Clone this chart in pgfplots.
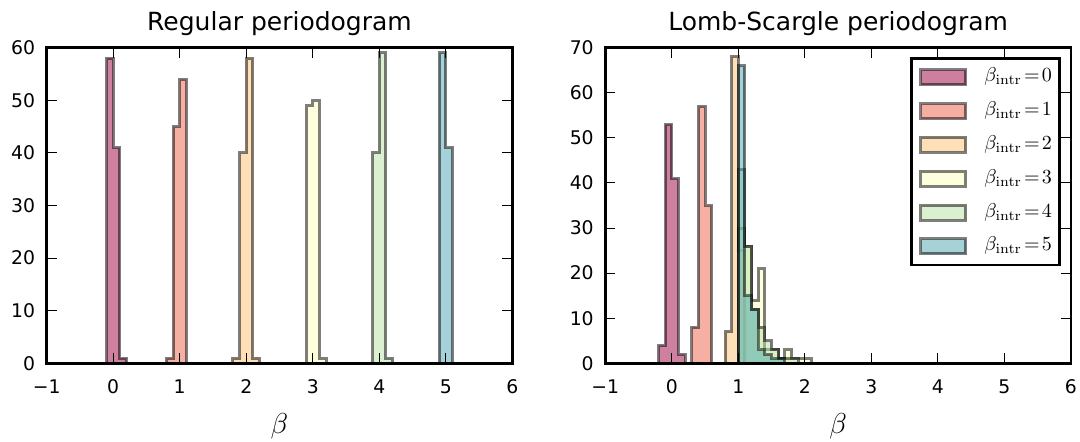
\documentclass[border=0pt]{standalone}
\usepackage{pgfplots}
\pgfplotsset{compat=1.18}
\usepackage{pgfplotstable}
\usepackage[no-math]{fontspec}
\setmainfont{DejaVu Sans}

% Spectral colours, sampled at 0, 0.17, ..., 0.85
\definecolor{c0}{RGB}{158,1,66}
\definecolor{c1}{RGB}{235,95,71}
\definecolor{c2}{RGB}{253,194,114}
\definecolor{c3}{RGB}{252,254,186}
\definecolor{c4}{RGB}{183,226,162}
\definecolor{c5}{RGB}{76,165,177}

% Histograms: left bin edge, count (last row closes the outline)
% Regular periodogram
\pgfplotstableread{
edge count
-0.1 58
0.0 41
0.1 1
0.2 0
}\regA
\pgfplotstableread{
edge count
0.8 1
0.9 45
1.0 54
1.1 0
}\regB
\pgfplotstableread{
edge count
1.8 1
1.9 40
2.0 58
2.1 1
2.2 0
}\regC
\pgfplotstableread{
edge count
2.9 49
3.0 50
3.1 1
3.2 0
}\regD
\pgfplotstableread{
edge count
3.9 40
4.0 59
4.1 1
4.2 0
}\regE
\pgfplotstableread{
edge count
4.9 59
5.0 41
5.1 0
}\regF
% Lomb-Scargle periodogram
\pgfplotstableread{
edge count
-0.2 4
-0.1 53
0.0 41
0.1 2
0.2 0
}\lsA
\pgfplotstableread{
edge count
0.3 8
0.4 57
0.5 35
0.6 0
}\lsB
\pgfplotstableread{
edge count
0.8 7
0.9 68
1.0 25
1.1 0
}\lsC
\pgfplotstableread{
edge count
1.0 30
1.1 26
1.2 14
1.3 21
1.4 3
1.5 3
1.6 1
1.7 3
1.8 1
1.9 1
2.0 1
2.1 0
}\lsD
\pgfplotstableread{
edge count
1.0 43
1.1 26
1.2 12
1.3 8
1.4 5
1.5 3
1.6 1
1.7 1
1.8 1
1.9 0
}\lsE
\pgfplotstableread{
edge count
1.0 66
1.1 15
1.2 12
1.3 3
1.4 2
1.5 1
1.6 1
1.7 0
}\lsF

\pgfplotsset{
  hist/.style={const plot, fill=#1, fill opacity=0.5, draw=black,
    draw opacity=0.5, line width=1.5pt, line join=miter},
  panel/.style={
    scale only axis, width=232.8pt, height=157.8pt,
    xmin=-1, xmax=6, ymin=0,
    xtick={-1,0,...,6},
    xticklabels={−1,0,1,2,3,4,5,6},
    axis on top,
    axis line style={line width=1.3pt},
    tick style={black, line width=0.5pt},
    major tick length=5pt, tick align=inside,
    ticklabel style={font=\fontsize{9.4}{11}\selectfont},
    xticklabel style={anchor=base, yshift=-15pt, inner sep=0pt},
    yticklabel style={anchor=east, xshift=-5.6pt, inner sep=0pt},
    /pgf/number format/assume math mode=true,
    every axis title shift=0pt,
    title style={anchor=base, at={(0.5,1)}, yshift=8.5pt,
      font=\fontsize{12.5}{14}\selectfont},
    xlabel={$\beta$},
    xlabel style={at={(0.5,0)}, anchor=base, yshift=-35.3pt,
      font=\fontsize{15}{18}\selectfont},
    legend image code/.code={\draw[##1] (0pt,-3.75pt) rectangle (22.5pt,3.75pt);},
  },
}

\begin{document}
\begin{tikzpicture}
\path[use as bounding box] (0,0) rectangle (540pt,220.5pt);

\begin{axis}[panel, at={(23.35pt,38.85pt)}, anchor=south west,
  title={Regular periodogram}, ymax=60, ytick={0,10,...,60}]
  \addplot[hist=c0] table[x=edge, y=count] {\regA} \closedcycle;
  \addplot[hist=c1] table[x=edge, y=count] {\regB} \closedcycle;
  \addplot[hist=c2] table[x=edge, y=count] {\regC} \closedcycle;
  \addplot[hist=c3] table[x=edge, y=count] {\regD} \closedcycle;
  \addplot[hist=c4] table[x=edge, y=count] {\regE} \closedcycle;
  \addplot[hist=c5] table[x=edge, y=count] {\regF} \closedcycle;
\end{axis}

\begin{axis}[panel, at={(302.65pt,38.85pt)}, anchor=south west,
  title={Lomb-Scargle periodogram}, ymax=70, ytick={0,10,...,70},
  legend style={at={(1,1)}, anchor=north east, xshift=-5pt, yshift=-4.8pt,
    draw=black, line width=1.3pt, fill=white,
    font=\fontsize{10}{12}\selectfont,
    inner xsep=3.8pt, inner ysep=3.6pt, row sep=5.4pt,
    nodes={inner sep=0pt, text height=8pt, text depth=3.5pt},
    /tikz/every odd column/.append style={column sep=8.5pt}},
  legend cell align=left]
  \addplot[hist=c0] table[x=edge, y=count] {\lsA} \closedcycle;
  \addlegendentry{$\beta_{\mathrm{intr}}\!=\!0$}
  \addplot[hist=c1] table[x=edge, y=count] {\lsB} \closedcycle;
  \addlegendentry{$\beta_{\mathrm{intr}}\!=\!1$}
  \addplot[hist=c2] table[x=edge, y=count] {\lsC} \closedcycle;
  \addlegendentry{$\beta_{\mathrm{intr}}\!=\!2$}
  \addplot[hist=c3] table[x=edge, y=count] {\lsD} \closedcycle;
  \addlegendentry{$\beta_{\mathrm{intr}}\!=\!3$}
  \addplot[hist=c4] table[x=edge, y=count] {\lsE} \closedcycle;
  \addlegendentry{$\beta_{\mathrm{intr}}\!=\!4$}
  \addplot[hist=c5] table[x=edge, y=count] {\lsF} \closedcycle;
  \addlegendentry{$\beta_{\mathrm{intr}}\!=\!5$}
\end{axis}
\end{tikzpicture}
\end{document}
